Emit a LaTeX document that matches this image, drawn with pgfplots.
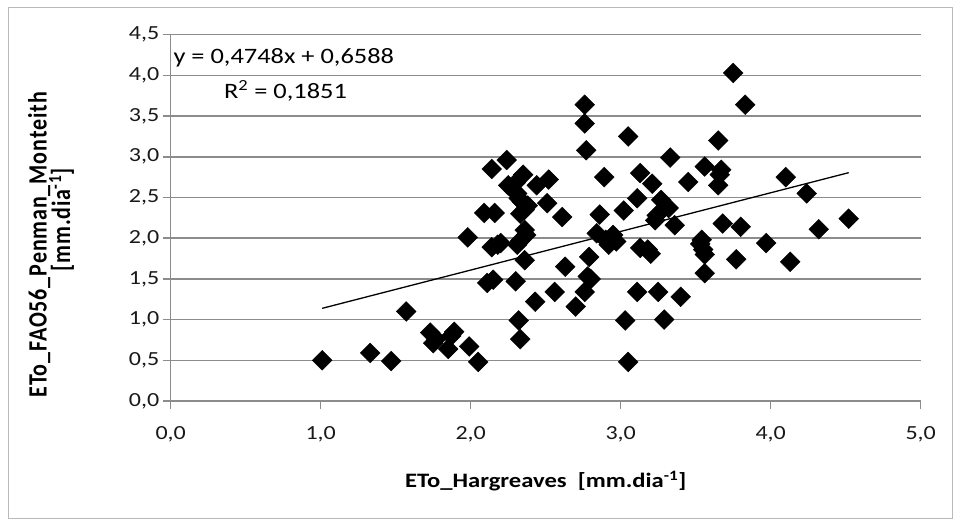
\documentclass[border=0pt]{standalone}
\usepackage{fontspec}
\setmainfont{Carlito}[FakeStretch=1.2]
\newfontfamily\ylfont{Carlito}[LetterSpace=4]
\usepackage{pgfplots}
\pgfplotsset{compat=1.18}
\usepackage{graphicx}
\definecolor{gridc}{RGB}{140,140,140}
\begin{document}
\begin{tikzpicture}[x=1bp,y=1bp]
\path[use as bounding box, fill=white] (0,0) rectangle (960,522);
\draw[gray!55, line width=1bp] (8,3) rectangle (952,514);
\begin{axis}[
  at={(170.7bp,121bp)}, anchor=south west,
  scale only axis, width=750bp, height=366.3bp,
  xmin=0, xmax=5, ymin=0, ymax=4.5,
  xtick={0,1,2,3,4,5}, ytick={0,0.5,1,1.5,2,2.5,3,3.5,4,4.5},
  axis x line*=bottom, axis y line*=left,
  axis line style={gridc, line width=1.5bp},
  ymajorgrids, grid style={gridc, line width=1.5bp},
  tick align=outside, major tick length=8bp,
  tick style={gridc, line width=1.5bp},
  /pgf/number format/.cd, fixed, fixed zerofill, precision=1, use comma, assume math mode=true,
  /pgfplots/.cd,
  ticklabel style={font=\fontsize{20bp}{22bp}\selectfont, text=black!90},
  xticklabel style={yshift=-14bp},
  yticklabel style={xshift=0bp},
  xlabel={\fontsize{20.5bp}{22bp}\selectfont\bfseries ETo\_Hargreaves~~[mm.dia\textsuperscript{-1}]},
  xlabel style={yshift=-22bp},
  ylabel={\scalebox{1}[1.2]{\ylfont\fontsize{22bp}{22bp}\selectfont\bfseries\begin{tabular}{c}ETo\_FAO56\_Penman\_Monteith\\[-4.5bp] \hspace*{50bp}[mm.dia\textsuperscript{-1}]\end{tabular}}},
  ylabel style={yshift=44bp, xshift=-27bp},
  clip=false,
]
\addplot[only marks, mark=square*, mark size=7bp, every mark/.append style={rotate=45}, black] coordinates {
(1.01,0.50) (1.33,0.59) (1.47,0.49) (1.57,1.10) (1.73,0.84) (1.75,0.71) (1.77,0.76)
(1.85,0.64) (1.87,0.80) (1.89,0.85) (1.99,0.67) (2.05,0.48)
(1.98,2.01) (2.09,2.31) (2.16,2.31) (2.14,1.89) (2.20,1.94) (2.11,1.45) (2.15,1.49)
(2.14,2.85) (2.24,2.96) (2.18,1.92)
(2.25,2.65) (2.28,2.60) (2.31,2.55) (2.32,2.49) (2.35,2.78) (2.36,2.35) (2.33,2.30)
(2.38,2.40) (2.44,2.65) (2.37,2.04) (2.36,2.10) (2.31,1.92) (2.33,1.97) (2.36,1.73)
(2.30,1.47) (2.43,1.22) (2.32,0.99) (2.33,0.76) (2.34,2.45) (2.30,2.68)
(2.52,2.72) (2.51,2.43) (2.56,1.34) (2.61,2.26) (2.63,1.65) (2.70,1.16)
(2.76,3.64) (2.76,3.41) (2.77,3.08) (2.76,1.34) (2.78,1.53) (2.79,1.77) (2.80,1.50)
(2.84,2.06) (2.86,2.29) (2.89,2.75) (2.92,1.92) (2.95,2.04) (2.97,1.96) (2.90,1.98)
(3.02,2.34) (3.05,3.25) (3.03,0.99) (3.05,0.48) (3.11,2.49) (3.13,2.80) (3.13,1.88)
(3.11,1.34) (3.20,1.81) (3.18,1.86) (3.21,2.67) (3.23,2.22) (3.24,2.28) (3.27,2.47)
(3.25,1.34) (3.29,1.00) (3.32,2.37) (3.33,2.99)
(3.36,2.16) (3.40,1.28) (3.45,2.69) (3.54,1.98) (3.55,1.86) (3.56,1.80) (3.56,1.57)
(3.56,2.88) (3.53,1.93)
(3.65,3.20) (3.67,2.84) (3.65,2.65) (3.66,2.78) (3.68,2.18) (3.75,4.03) (3.77,1.74)
(3.80,2.14) (3.83,3.64) (3.97,1.94) (4.10,2.75) (4.13,1.71) (4.24,2.55) (4.32,2.11)
(4.52,2.24)
};
\addplot[black, line width=1.3bp] coordinates {(1.01,1.1384) (4.52,2.8049)};
\node[anchor=west, inner sep=0pt, font=\fontsize{22bp}{24bp}\selectfont] at (rel axis cs:0.0035,0.937) {y = 0,4748x + 0,6588};
\node[anchor=west, inner sep=0pt, font=\fontsize{22bp}{24bp}\selectfont] at (rel axis cs:0.071,0.847) {R\textsuperscript{2} = 0,1851};
\end{axis}
\end{tikzpicture}
\end{document}
